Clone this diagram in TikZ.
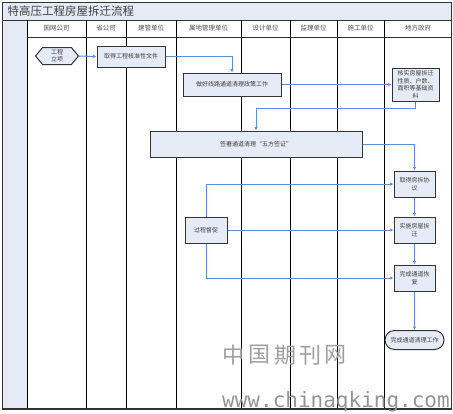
\documentclass[tikz,border=0pt]{standalone}
\usepackage{fontspec}
\setmainfont{Noto Sans CJK SC}
\newfontfamily\wmmono{DejaVu Sans Mono}
\usetikzlibrary{arrows.meta,shapes.symbols,shapes.misc}
\definecolor{barblue}{HTML}{E4EBF5}
\definecolor{boxblue}{HTML}{E6ECF7}
\definecolor{flowblue}{HTML}{5F8DD3}
\tikzset{
  lane/.style={black, line width=1pt},
  frame/.style={black!80, line width=1pt},
  hdr/.style={font=\fontsize{6.5}{7}\selectfont, text=black!70, anchor=center},
  box/.style={draw=black!80, fill=boxblue, line width=1pt, align=center,
    font=\fontsize{6}{7.5}\selectfont, text=black!75, inner sep=1pt},
  flow/.style={draw=flowblue, line width=1pt, -{Latex[length=3.5pt,width=3.5pt]}},
  wm/.style={text=black!38, font=\fontsize{22}{22}\selectfont}
}
\begin{document}
\begin{tikzpicture}[x=1pt,y=-1pt]
\useasboundingbox (0,0) rectangle (453,413);
% frame
\fill[barblue] (2.5,2.5) rectangle (451.5,20);
\fill[barblue] (2.5,20) rectangle (27,409);
\node[anchor=west, font=\fontsize{11.5}{12}\selectfont, text=black!75] (title) at (4,11) {特高压工程房屋拆迁流程};
\draw[frame] (2.5,20) -- (451.5,20);
\draw[frame] (27,37) -- (451.5,37);
\foreach \x in {27,86,126,176,241,290,337,384} \draw[lane] (\x,20) -- (\x,409);
\draw[frame] (2.5,2.5) rectangle (451.5,409);
\draw[black!80, line width=1.5pt] (2.5,409) -- (451.5,409);
% headers
\node[hdr] (h1) at (56.5,28.5) {国网公司};
\node[hdr] (h2) at (106,28.5) {省公司};
\node[hdr] (h3) at (151,28.5) {建管单位};
\node[hdr] (h4) at (208.5,28.5) {属地管理单位};
\node[hdr] (h5) at (265.5,28.5) {设计单位};
\node[hdr] (h6) at (313.5,28.5) {监理单位};
\node[hdr] (h7) at (360.5,28.5) {施工单位};
\node[hdr] (h8) at (418,28.5) {地方政府};
% nodes
\node[box, signal, signal to=west and east, signal pointer angle=100,
  minimum width=43pt, minimum height=17pt, inner sep=0pt] (lx) at (57,56) {工程\\[-1pt]立项};
\node[box, minimum width=68pt, minimum height=21pt] (qd) at (131,56.5) {取得工程核准性文件};
\node[box, minimum width=98pt, minimum height=23pt] (zh) at (232,84.5) {做好线路通道清理政策工作};
\node[box, minimum width=47pt, minimum height=33pt] (hs) at (415.5,84.5) {核实房屋拆迁\\性质、户数、\\面积等基础资\\料};
\node[box, minimum width=212pt, minimum height=26pt] (wf) at (256,144) {签署通道清理“五方签证”};
\node[box, minimum width=41pt, minimum height=26pt] (fc) at (414.5,184) {取得房拆协\\议};
\node[box, minimum width=42pt, minimum height=26pt] (gc) at (206,230) {过程督促};
\node[box, minimum width=41pt, minimum height=26pt] (ss) at (414.5,230) {实施房屋拆\\迁};
\node[box, minimum width=41pt, minimum height=26pt] (hf) at (414.5,278) {完成通道恢\\复};
\node[box, rounded rectangle, minimum width=59pt, minimum height=19pt, inner sep=0pt] (wc) at (414.5,340) {完成通道清理工作};
% connectors
\draw[flow] (lx.east) -- (qd.west);
\draw[flow] (qd.east) -| (zh.north);
\draw[flow] (zh.east) -- (zh.east -| hs.west);
\draw[flow] (hs.south) -- ++(0,7) -| (wf.north);
\draw[flow] (wf.east) -| (fc.north);
\draw[flow] (gc.north) |- (fc.west);
\draw[flow] (gc.east) -- (ss.west);
\draw[flow] (gc.south) |- (hf.west);
\draw[flow] (fc.south) -- (ss.north);
\draw[flow] (ss.south) -- (hf.north);
\draw[flow] (hf.south) -- (wc.north);
% watermark
\node[wm] (w1) at (233,355) {中};
\node[wm] (w2) at (259,355) {国};
\node[wm] (w3) at (285,355) {期};
\node[wm] (w4) at (310,355) {刊};
\node[wm] (w5) at (335,355) {网};
\node[anchor=base west, inner sep=0pt, text=black!42, font=\wmmono\fontsize{21}{21}\selectfont] (w6) at (222,407) {www.chinaqking.com};
\end{tikzpicture}
\end{document}
